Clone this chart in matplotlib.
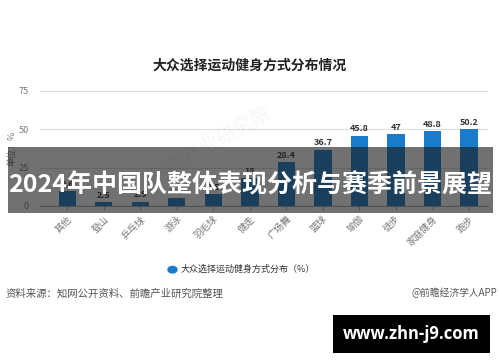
import matplotlib.pyplot as plt
from matplotlib.patches import Rectangle

plt.rcParams['font.family'] = ['Noto Sans CJK SC', 'DejaVu Sans']

# data
categories = ['其他', '登山', '乒乓球', '游泳', '羽毛球', '健走', '广场舞', '篮球', '瑜伽', '徒步', '家庭健身', '跑步']
values = [9.6, 2.5, 2.9, 5.1, 7.5, 18, 28.4, 36.7, 45.8, 47, 48.8, 50.2]
labels = ['9.6', '2.5', '2.9', '5.1', '7.5', '18', '28.4', '36.7', '45.8', '47', '48.8', '50.2']
yticks = [0, 25, 50, 75]

title = '大众选择运动健身方式分布情况'
legend_text = '大众选择运动健身方式分布（%）'
source_text = '资料来源：知网公开资料、前瞻产业研究院整理'
brand_text = '@前瞻经济学人APP'
banner_text = '2024年中国队整体表现分析与赛季前景展望'
site_text = 'www.zhn-j9.com'

bar_color = '#1b7bcb'

fig = plt.figure(figsize=(5, 3.62), dpi=100)
ax = fig.add_axes([0.08, 0.431, 0.896, 0.318])

x = range(len(categories))
ax.bar(x, values, width=0.47, color=bar_color, zorder=3)
for i, v in enumerate(values):
    ax.text(i, v + 1.5, labels[i], ha='center', va='bottom', fontsize=6.5,
            fontweight='bold', color='#333333', zorder=4)

ax.set_xlim(-0.75, 11.52)
ax.set_ylim(0, 75)
ax.set_yticks(yticks)
ax.set_yticklabels([str(t) for t in yticks], fontsize=6.5, color='#777777')
ax.yaxis.set_tick_params(length=0, pad=8)
ax.grid(axis='y', color='#dddddd', linewidth=0.8, zorder=0)
ax.set_xticks(list(x))
ax.set_xticklabels(categories, rotation=45, ha='right', rotation_mode='anchor',
                   fontsize=6.8, color='#777777')
ax.xaxis.set_tick_params(length=3, color='#aaaaaa', pad=3)
for s in ['top', 'right', 'left']:
    ax.spines[s].set_visible(False)
ax.spines['bottom'].set_color('#aaaaaa')

fig.text(0.5, 0.82, title, ha='center', va='center', fontsize=10, fontweight='bold', color='#222222')
fig.text(0.025, 0.59, '单位：%', rotation=90, ha='center', va='center', fontsize=6.5, color='#777777')

# faint watermark
fig.text(0.42, 0.6, '前瞻产业研究院', rotation=30, ha='center', va='center', fontsize=14,
         color='#000000', alpha=0.03, fontweight='bold')

# legend
fig.patches.append(plt.Circle((0.345, 0.255), 0.009, transform=fig.transFigure,
                              color=bar_color, figure=fig))
fig.text(0.362, 0.255, legend_text, ha='left', va='center', fontsize=6.5, color='#333333')

fig.text(0.012, 0.19, source_text, ha='left', va='center', fontsize=7.5, color='#555555')
fig.text(0.995, 0.19, brand_text, ha='right', va='center', fontsize=7, color='#555555')

# banner overlay
fig.add_artist(Rectangle((0.016, 0.4116), 0.97, 0.182, transform=fig.transFigure,
                         facecolor='#1a1a1a', alpha=0.62, edgecolor='none', zorder=5))
fig.text(0.5, 0.489, banner_text, ha='center', va='center', fontsize=18,
         fontweight='bold', color='white', zorder=6)

# site box
fig.add_artist(Rectangle((0.666, 0.025), 0.314, 0.105, transform=fig.transFigure,
                         facecolor='black', edgecolor='none', zorder=5))
fig.text(0.822, 0.077, site_text, ha='center', va='center', fontsize=12,
         fontweight='bold', color='white', family=['Open Sans', 'DejaVu Sans'], zorder=6)

fig.savefig('out.png', dpi=100)
